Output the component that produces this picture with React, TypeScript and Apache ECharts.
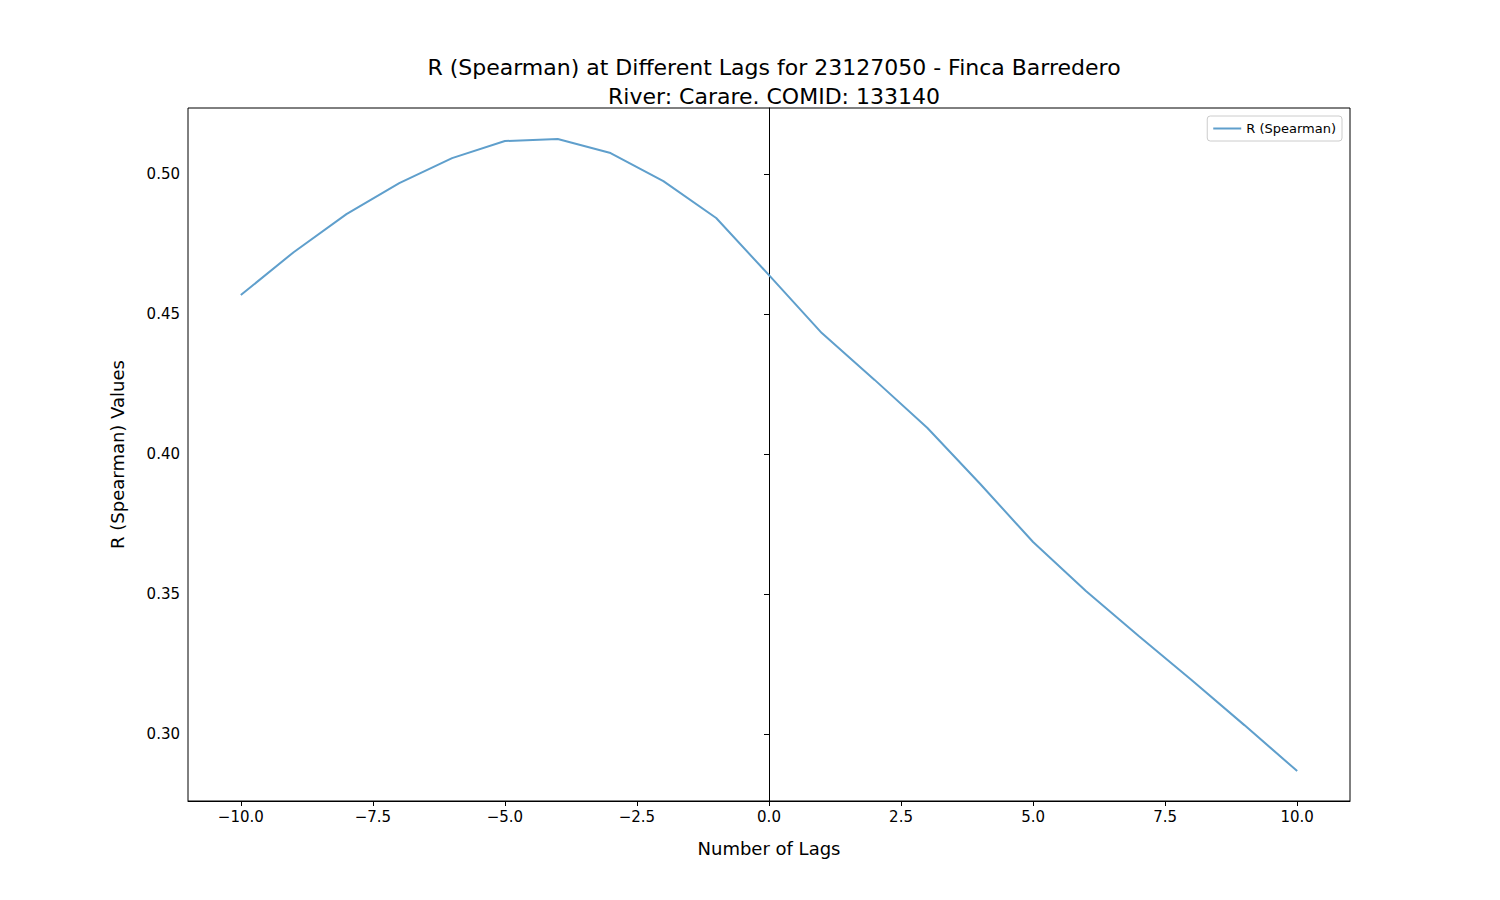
import { useRef, useEffect } from 'react'
import * as echarts from 'echarts'

const LAGS = [-10, -9, -8, -7, -6, -5, -4, -3, -2, -1, 0, 1, 2, 3, 4, 5, 6, 7, 8, 9, 10]
const R_SPEARMAN = [
  0.4568, 0.4721, 0.4857, 0.4968, 0.5057, 0.5118, 0.5125, 0.5075, 0.4975, 0.4843, 0.4639,
  0.4432, 0.4265, 0.4093, 0.3893, 0.3686, 0.3511, 0.335, 0.3193, 0.3032, 0.2868,
]
const X_TICKS = [-10, -7.5, -5, -2.5, 0, 2.5, 5, 7.5, 10]
const Y_TICKS = [0.3, 0.35, 0.4, 0.45, 0.5]

const FONT = 'DejaVu Sans'
const fmt = (v: number, d: number) => (v < 0 ? '\u2212' + Math.abs(v).toFixed(d) : v.toFixed(d))

export default function App() {
  const ref = useRef<HTMLDivElement>(null)

  useEffect(() => {
    document.body.style.margin = '0'
    const chart = echarts.init(ref.current!, null, { renderer: 'svg' })
    chart.setOption({
      animation: false,
      backgroundColor: '#fff',
      textStyle: { fontFamily: FONT },
      title: {
        text: 'R (Spearman) at Different Lags for 23127050 - Finca Barredero\nRiver: Carare. COMID: 133140',
        left: 769,
        top: 48,
        textAlign: 'center',
        textStyle: { fontFamily: FONT, fontSize: 22, fontWeight: 'normal', color: '#000', lineHeight: 29 },
      },
      legend: {
        right: 158,
        top: 116,
        orient: 'vertical',
        itemWidth: 28,
        itemHeight: 2,
        icon: 'rect',
        padding: [6, 6],
        borderColor: '#ccc',
        borderWidth: 1,
        borderRadius: 3,
        textStyle: { fontFamily: FONT, fontSize: 13, color: '#000' },
        data: ['R (Spearman)'],
      },
      grid: { left: 188, top: 108, width: 1162, height: 693, show: true, borderColor: '#000', borderWidth: 1 },
      xAxis: {
        type: 'value',
        min: -11,
        max: 11,
        name: 'Number of Lags',
        nameLocation: 'middle',
        nameGap: 38,
        nameTextStyle: { fontFamily: FONT, fontSize: 18, color: '#000' },
        axisLine: { lineStyle: { color: '#000' } },
        axisTick: { customValues: X_TICKS, length: 5, lineStyle: { color: '#000' } },
        axisLabel: { customValues: X_TICKS, formatter: (v: number) => fmt(v, 1), fontSize: 15, color: '#000', margin: 8 },
        splitLine: { show: false },
      },
      yAxis: {
        type: 'value',
        min: 0.2761,
        max: 0.5236,
        name: 'R (Spearman) Values',
        nameLocation: 'middle',
        nameGap: 62,
        nameTextStyle: { fontFamily: FONT, fontSize: 18, color: '#000' },
        axisLine: { show: true, lineStyle: { color: '#000' } },
        axisTick: { show: true, customValues: Y_TICKS, length: 5, lineStyle: { color: '#000' } },
        axisLabel: { customValues: Y_TICKS, formatter: (v: number) => fmt(v, 2), fontSize: 15, color: '#000', margin: 8 },
        splitLine: { show: false },
      },
      series: [
        {
          name: 'R (Spearman)',
          type: 'line',
          data: LAGS.map((x, i) => [x, R_SPEARMAN[i]]),
          symbol: 'none',
          lineStyle: { color: '#5f9fcc', width: 2 },
          itemStyle: { color: '#5f9fcc' },
        },
      ],
    })
    return () => chart.dispose()
  }, [])

  return <div ref={ref} style={{ width: 1500, height: 900 }} />
}
